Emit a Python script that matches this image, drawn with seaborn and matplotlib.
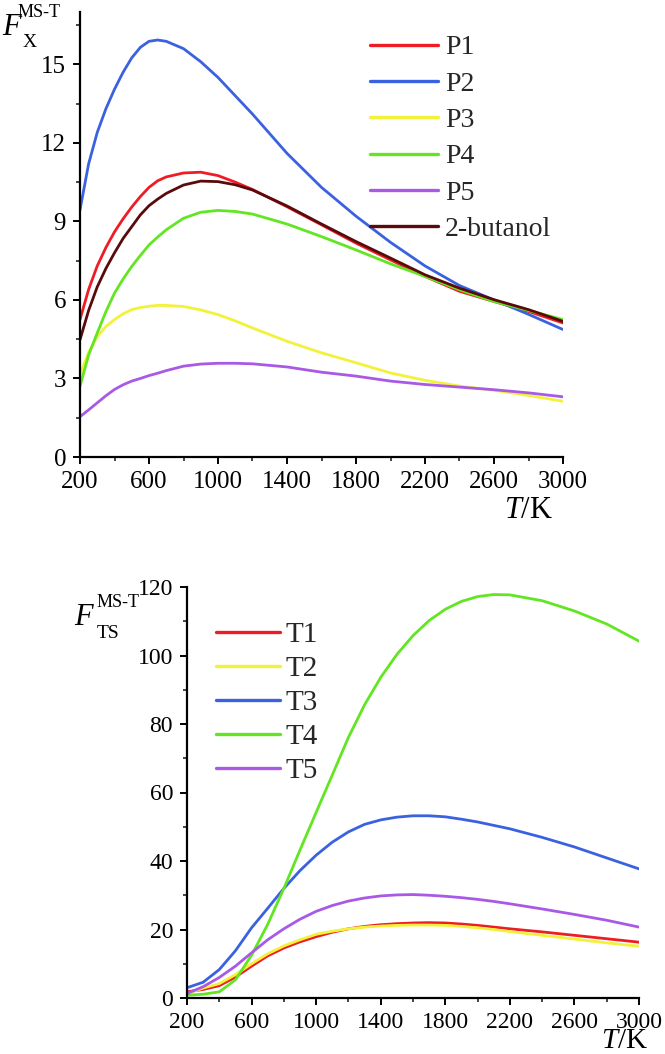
import numpy as np
import pandas as pd
import matplotlib
matplotlib.use("Agg")
import matplotlib.pyplot as plt
import seaborn as sns
from matplotlib.ticker import MultipleLocator
from matplotlib.lines import Line2D

# ---------------- data ----------------
T_top = [200, 250, 300, 350, 400, 450, 500, 550, 600, 650, 700, 800, 900, 1000, 1100, 1200,
         1400, 1600, 1800, 2000, 2200, 2400, 2600, 2800, 3000]
P1 = [5.25, 6.4, 7.3, 8.0, 8.6, 9.1, 9.55, 9.95, 10.3, 10.55, 10.7, 10.85, 10.88, 10.75, 10.5, 10.22,
      9.56, 8.87, 8.17, 7.53, 6.9, 6.33, 5.94, 5.56, 5.12]
P2 = [9.44, 11.2, 12.4, 13.3, 14.05, 14.7, 15.25, 15.65, 15.88, 15.93, 15.88, 15.6, 15.1, 14.5, 13.8, 13.1,
      11.6, 10.3, 9.2, 8.2, 7.3, 6.55, 6.0, 5.45, 4.87]
P3 = [3.15, 4.0, 4.6, 4.98, 5.25, 5.47, 5.63, 5.71, 5.76, 5.79, 5.79, 5.75, 5.62, 5.44, 5.2, 4.93,
      4.42, 3.98, 3.6, 3.21, 2.93, 2.71, 2.55, 2.35, 2.13]
P4 = [2.7, 3.9, 4.74, 5.55, 6.26, 6.8, 7.28, 7.7, 8.1, 8.4, 8.68, 9.12, 9.35, 9.42, 9.38, 9.28,
      8.9, 8.42, 7.91, 7.38, 6.9, 6.39, 5.94, 5.6, 5.25]
P5 = [1.54, 1.8, 2.07, 2.34, 2.58, 2.76, 2.9, 3.0, 3.11, 3.2, 3.3, 3.47, 3.55, 3.58, 3.58, 3.56,
      3.44, 3.24, 3.09, 2.9, 2.77, 2.67, 2.57, 2.45, 2.3]
BUT = [4.48, 5.6, 6.5, 7.2, 7.8, 8.35, 8.8, 9.25, 9.6, 9.85, 10.07, 10.39, 10.54, 10.52, 10.4, 10.2,
       9.59, 8.9, 8.23, 7.6, 6.96, 6.45, 6.01, 5.63, 5.18]
top_names = ["P1", "P2", "P3", "P4", "P5", "2-butanol"]
top_series = [P1, P2, P3, P4, P5, BUT]
top_colors = ["#ee1c25", "#3a62e0", "#f2f23a", "#62e622", "#a85ae6", "#5a0a0a"]

T_bot = [200, 300, 400, 500, 600, 700, 800, 900, 1000, 1100, 1200, 1300, 1400, 1500, 1600,
         1700, 1800, 1900, 2000, 2100, 2200, 2400, 2600, 2800, 3000]
T1 = [1.8, 2.5, 3.6, 6.1, 9.3, 12.3, 14.6, 16.4, 17.9, 19.2, 20.2, 20.9, 21.4, 21.7, 21.9,
      22.0, 21.9, 21.6, 21.2, 20.7, 20.2, 19.3, 18.3, 17.3, 16.3]
T2 = [1.2, 2.9, 4.2, 6.8, 10.0, 12.9, 15.2, 17.0, 18.6, 19.5, 20.2, 20.7, 21.0, 21.2, 21.3,
      21.3, 21.2, 20.9, 20.5, 20.0, 19.4, 18.3, 17.2, 16.1, 15.1]
T3 = [3.0, 4.6, 8.3, 13.8, 20.5, 26.2, 32.0, 37.2, 41.7, 45.5, 48.5, 50.7, 52.0, 52.8, 53.2,
      53.2, 52.9, 52.2, 51.4, 50.4, 49.4, 46.9, 44.1, 40.9, 37.7]
T4 = [0.8, 1.1, 1.8, 5.3, 12.5, 21.5, 32.0, 43.2, 54.2, 65.1, 76.1, 85.6, 93.6, 100.3, 105.8,
      110.2, 113.5, 115.8, 117.2, 117.8, 117.7, 116.0, 113.0, 109.2, 104.2]
T5 = [1.3, 3.3, 6.0, 9.3, 13.2, 17.0, 20.2, 23.0, 25.3, 27.0, 28.3, 29.2, 29.8, 30.1, 30.2,
      30.0, 29.7, 29.3, 28.8, 28.2, 27.5, 26.0, 24.4, 22.7, 20.7]
bot_names = ["T1", "T2", "T3", "T4", "T5"]
bot_series = [T1, T2, T3, T4, T5]
bot_colors = ["#ee1c25", "#f2f23a", "#3a62e0", "#62e622", "#a85ae6"]

x_ticks = [200, 600, 1000, 1400, 1800, 2200, 2600, 3000]

# ---------------- style ----------------
sns.set_style("ticks")
plt.rcParams["font.family"] = ["Liberation Serif", "DejaVu Serif"]
plt.rcParams["mathtext.fontset"] = "custom"
plt.rcParams["mathtext.rm"] = "Liberation Serif"
plt.rcParams["mathtext.it"] = "Liberation Serif:italic"

W, H = 665, 1054
fig = plt.figure(figsize=(W / 100, H / 100), dpi=100)


def ax_rect(x0, y0, x1, y1):
    return [x0 / W, 1 - y1 / H, (x1 - x0) / W, (y1 - y0) / H]


def build(names, series, T):
    rows = []
    for n, s in zip(names, series):
        for t, v in zip(T, s):
            rows.append({"T": t, "F": v, "species": n})
    return pd.DataFrame(rows)


def style_axes(ax, ymin, ymax, ymaj, ymin_loc, fs):
    ax.set_xlim(200, 3000)
    ax.set_ylim(ymin, ymax)
    ax.set_xticks(x_ticks)
    ax.xaxis.set_minor_locator(MultipleLocator(200))
    ax.yaxis.set_major_locator(MultipleLocator(ymaj))
    ax.yaxis.set_minor_locator(MultipleLocator(ymin_loc))
    for sp in ["top", "right"]:
        ax.spines[sp].set_visible(False)
    for sp in ["left", "bottom"]:
        ax.spines[sp].set_linewidth(1.6)
        ax.spines[sp].set_color("black")
    ax.tick_params(which="major", direction="out", length=5, width=1.4, labelsize=fs, pad=5, colors="black")
    ax.tick_params(which="minor", direction="out", length=3, width=1.2)
    ax.set_xlabel("")
    ax.set_ylabel("")
    ax.grid(False)


# ---- top panel ----
ax1 = fig.add_axes(ax_rect(80, 12, 563, 457))
df1 = build(top_names, top_series, T_top)
sns.lineplot(data=df1, x="T", y="F", hue="species", hue_order=top_names,
             palette=dict(zip(top_names, top_colors)), linewidth=2.0, ax=ax1, legend=False)
style_axes(ax1, 0, 17, 3, 1.5, 18)
ax1.set_yticks([0, 3, 6, 9, 12, 15])
h1 = [Line2D([], [], color=c, lw=2.4) for c in top_colors]
ax1.legend(h1, top_names, loc="upper left", bbox_to_anchor=((370 - 80) / 483, 1 - (35 - 12) / 445),
           frameon=False, fontsize=20, handlelength=2.45, handletextpad=0.25,
           labelspacing=0.39, borderpad=0, borderaxespad=0)

# ---- bottom panel ----
ax2 = fig.add_axes(ax_rect(187, 587, 639, 998))
df2 = build(bot_names, bot_series, T_bot)
sns.lineplot(data=df2, x="T", y="F", hue="species", hue_order=bot_names,
             palette=dict(zip(bot_names, bot_colors)), linewidth=2.0, ax=ax2, legend=False)
style_axes(ax2, 0, 120, 20, 10, 17)
h2 = [Line2D([], [], color=c, lw=2.4) for c in bot_colors]
ax2.legend(h2, bot_names, loc="upper left", bbox_to_anchor=((216 - 187) / 452, 1 - (622 - 587) / 411),
           frameon=False, fontsize=21, handlelength=2.2, handletextpad=0.2,
           labelspacing=0.26, borderpad=0, borderaxespad=0)


# ---- axis titles as text ----
def ftext(x, y, s, size, style="normal", ha="left"):
    fig.text(x / W, 1 - y / H, s, fontsize=size, style=style, ha=ha, va="baseline", color="black")


ftext(2, 35, "F", 22, "italic")
ftext(18, 17, "MS-T", 13)
ftext(23, 47, "X", 14)
ftext(553, 518, r"$T$/K", 22, ha="right")

ftext(74, 625, "F", 22, "italic")
ftext(97, 607, "MS-T", 13)
ftext(97, 638, "TS", 14)
ftext(648, 1048, r"$T$/K", 21, ha="right")

fig.savefig("out.png", dpi=100)
